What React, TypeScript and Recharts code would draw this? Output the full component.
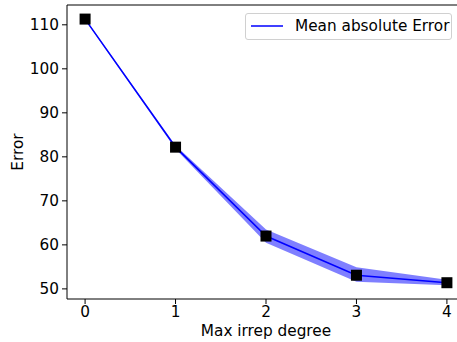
import { ComposedChart, Area, Line, XAxis, YAxis, ReferenceLine } from "recharts";

const degrees = [0, 1, 2, 3, 4];
const meanError = [111.3, 82.2, 62.0, 53.1, 51.4];
const lowerBand = [111.1, 81.8, 60.5, 51.6, 50.8];
const upperBand = [111.5, 82.6, 63.5, 54.9, 52.1];
const xTicks = [0, 1, 2, 3, 4];
const yTicks = [50, 60, 70, 80, 90, 100, 110];

const data = degrees.map((deg, i) => ({
  deg,
  mae: meanError[i],
  band: [lowerBand[i], upperBand[i]],
}));

const font = "'DejaVu Sans', sans-serif";
const fs = 15.3;

function Square(props: any) {
  const { cx, cy, index } = props;
  if (cx == null || cy == null) return <g key={`sq-${index}`} />;
  return <rect key={`sq-${index}`} x={cx - 5.5} y={cy - 5.5} width={11} height={11} fill="#000" />;
}

export default function App() {
  return (
    <div style={{ position: "fixed", left: 0, top: 0, width: 457, height: 342, overflow: "hidden", background: "#fff" }}>
      <ComposedChart width={466} height={342} data={data} margin={{ top: 5, right: 1, left: 0, bottom: 0 }}>
        <XAxis
          dataKey="deg"
          type="number"
          domain={[-0.2, 4.2]}
          ticks={xTicks}
          allowDataOverflow
          height={43}
          stroke="#000"
          tickSize={5}
          tickMargin={2}
          tick={{ fill: "#000", fontSize: fs, fontFamily: font }}
          label={{ value: "Max irrep degree", position: "insideBottom", offset: 6, fill: "#000", fontSize: fs, fontFamily: font }}
        />
        <YAxis
          type="number"
          domain={[47.7, 114.5]}
          ticks={yTicks}
          allowDataOverflow
          width={67}
          stroke="#000"
          tickSize={5}
          tickMargin={3}
          tick={{ fill: "#000", fontSize: fs, fontFamily: font }}
          label={{ value: "Error", angle: -90, position: "insideLeft", offset: 18, fill: "#000", fontSize: fs, fontFamily: font, style: { textAnchor: "middle" } }}
        />
        <ReferenceLine y={114.5} stroke="#000" strokeWidth={1} />
        <Area
          type="linear"
          dataKey="band"
          stroke="none"
          fill="#0000ff"
          fillOpacity={0.5}
          isAnimationActive={false}
          activeDot={false}
        />
        <Line type="linear" dataKey="mae" stroke="none" dot={<Square />} activeDot={false} isAnimationActive={false} />
        <Line type="linear" dataKey="mae" stroke="#0000ff" strokeWidth={1.5} dot={false} activeDot={false} isAnimationActive={false} />
      </ComposedChart>
      <div
        style={{
          position: "absolute",
          left: 245,
          top: 13,
          width: 205,
          height: 25,
          border: "1px solid #d0d0d0",
          borderRadius: 3,
          background: "rgba(255,255,255,0.8)",
          fontFamily: font,
          fontSize: fs,
          color: "#000",
        }}
      >
        <svg width={40} height={25} style={{ position: "absolute", left: 0, top: 0 }}>
          <line x1={5} y1={12} x2={37} y2={12} stroke="#0000ff" strokeWidth={1.5} />
        </svg>
        <span style={{ position: "absolute", left: 49, top: 2, lineHeight: "20px", whiteSpace: "nowrap" }}>Mean absolute Error</span>
      </div>
    </div>
  );
}
